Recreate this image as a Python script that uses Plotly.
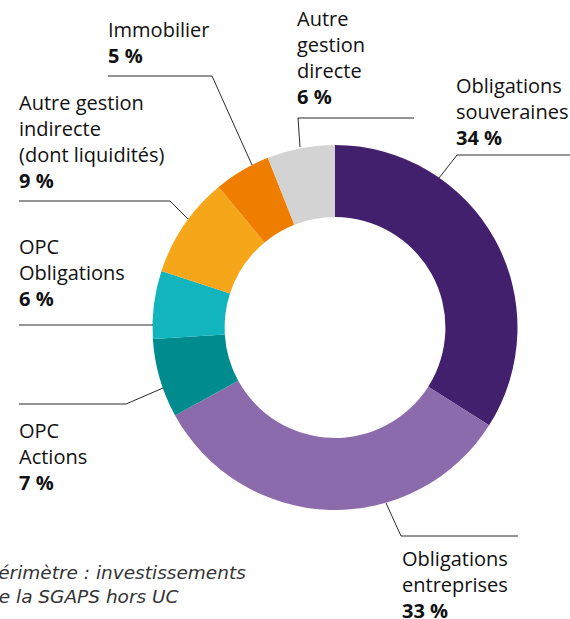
import plotly.graph_objects as go

# ---- data ----
categories = ["Obligations souveraines", "Obligations entreprises", "OPC Actions",
              "OPC Obligations", "Autre gestion indirecte (dont liquidités)",
              "Immobilier", "Autre gestion directe"]
values = [34, 33, 7, 6, 9, 5, 6]
label_lines = [["Obligations", "souveraines"], ["Obligations", "entreprises"],
               ["OPC", "Actions"], ["OPC", "Obligations"],
               ["Autre gestion", "indirecte", "(dont liquidités)"],
               ["Immobilier"], ["Autre", "gestion", "directe"]]
colors = ["#42206d", "#8b6bac", "#008b8f", "#12b5be", "#f5a619", "#ef7d00", "#d3d3d3"]
footnote = "Périmètre : investissements<br>de la SGAPS hors UC"

W, H = 570, 619
FONT = "Open Sans"
LABEL_SIZE = 20

def px(x):
    return x / W

def py(y):
    return 1 - y / H

# donut geometry (pixels)
cx, cy, R = 335, 327.5, 182.5

fig = go.Figure(go.Pie(
    labels=categories, values=values, sort=False, direction="clockwise",
    rotation=0, hole=0.605, textinfo="none",
    marker=dict(colors=colors, line=dict(width=0)),
    domain=dict(x=[px(cx - R), px(cx + R)], y=[py(cy + R), py(cy - R)]),
    showlegend=False,
))

# label layout (pixels): left x, block center y
label_pos = [(453.5, 111.5), (399.5, 584.7), (16.5, 456.1), (16.5, 272.6),
             (16.5, 141.5), (105.5, 42.2), (295.5, 57.1)]
# leader lines (pixel polylines)
leaders = [
    [(457, 155), (570, 155)], [(457, 155), (439, 178)],
    [(401, 536), (518, 536)], [(401, 536), (386, 503)],
    [(19, 404), (126, 404)], [(126, 404), (163, 388)],
    [(19, 325), (153, 325)],
    [(19, 201), (170, 201)], [(170, 201), (188, 219)],
    [(108, 76), (212, 76)], [(212, 76), (252, 165)],
    [(298, 118), (414, 118)], [(298, 118), (300, 147)],
]

shapes = []
for seg in leaders:
    (x0, y0), (x1, y1) = seg
    shapes.append(dict(type="line", xref="paper", yref="paper",
                       x0=px(x0), y0=py(y0), x1=px(x1), y1=py(y1),
                       line=dict(color="#2b2b2b", width=1)))

annotations = []
for lines, v, (lx, ly) in zip(label_lines, values, label_pos):
    text = "<br>".join(lines + [f"<b>{v} %</b>"])
    annotations.append(dict(text=text, xref="paper", yref="paper",
                            x=px(lx), y=py(ly), xanchor="left", yanchor="middle",
                            align="left", showarrow=False,
                            font=dict(family=FONT, size=LABEL_SIZE, color="#111111")))

annotations.append(dict(text=f"<i>{footnote}</i>", xref="paper", yref="paper",
                        x=px(-15), y=py(584), xanchor="left", yanchor="middle",
                        align="left", showarrow=False,
                        font=dict(family="DejaVu Sans", size=18.5, color="#333333")))

fig.update_layout(
    width=W, height=H, margin=dict(l=0, r=0, t=0, b=0),
    paper_bgcolor="white", plot_bgcolor="white",
    shapes=shapes, annotations=annotations,
)

fig.write_html("out.html")
